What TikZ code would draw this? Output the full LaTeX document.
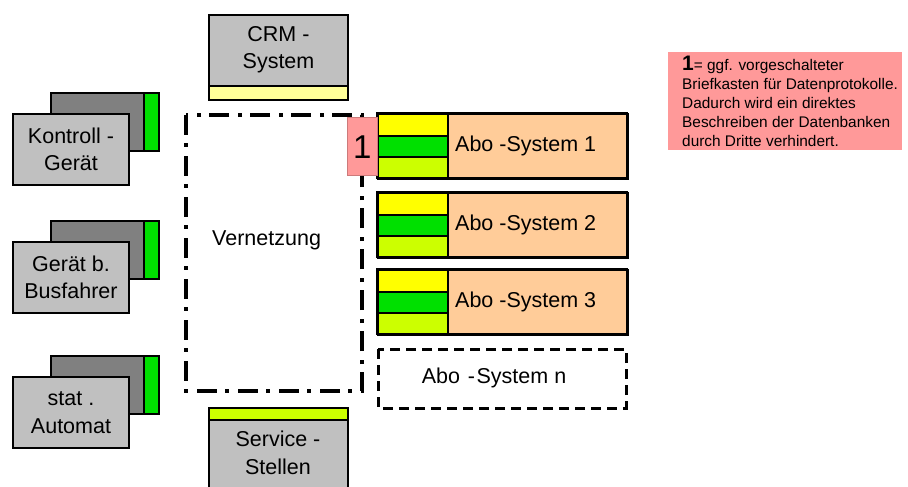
\documentclass[tikz,border=0pt]{standalone}
\usepackage{fontspec}
\setmainfont{Liberation Sans}
\definecolor{lgray}{HTML}{C0C0C0}
\definecolor{dgray}{HTML}{808080}
\definecolor{ledgreen}{HTML}{00E000}
\definecolor{yel}{HTML}{FFFF00}
\definecolor{ygreen}{HTML}{CCFF00}
\definecolor{peach}{HTML}{FFCC99}
\definecolor{rosa}{HTML}{FF9999}
\definecolor{paleyel}{HTML}{FFFF99}
\begin{document}
\begin{tikzpicture}[x=1pt,y=-1pt,
  box/.style={draw=black, line width=2pt},
  blockbox/.style={box, rectangle, inner sep=0pt, anchor=north west},
  lbl/.style={font=\fontsize{21.5}{27.5}\selectfont, align=center, inner sep=0pt},
  netline/.style={line width=4pt, dash pattern=on 20pt off 8pt on 4pt off 9pt},
  openbox/.style={line width=3pt, dash pattern=on 10pt off 6pt}]
\useasboundingbox (0,0) rectangle (908,487);

% terminal devices on the left: dark housing with green display, light front
\foreach \t/\name/\txt in {92/kontroll/{Kontroll -\\Gerät},
                           220/bus/{Gerät b.\\Busfahrer},
                           355/automat/{stat .\\Automat}} {
  \node[blockbox, fill=dgray, minimum width=108pt, minimum height=58pt]
    (\name-back) at (50,\t) {};
  \node[blockbox, fill=ledgreen, minimum width=15pt, minimum height=58pt]
    (\name-led) at (143,\t) {};
  \node[blockbox, fill=lgray, minimum width=116pt, minimum height=71pt]
    (\name) at (12,\t+21) {};
  \node[lbl] (\name-txt) at (\name.center) {\txt};
}

% CRM system on top
\node[blockbox, fill=lgray, minimum width=139pt, minimum height=71pt]
  (crm) at (208,14) {};
\node[blockbox, fill=paleyel, minimum width=139pt, minimum height=14pt]
  (crm-strip) at (208,85) {};
\node[lbl] (crm-txt) at ([yshift=1pt]crm.center) {CRM -\\System};

% service points at the bottom
\node[blockbox, fill=ygreen, minimum width=139pt, minimum height=12pt]
  (service-strip) at (208,407) {};
\node[blockbox, fill=lgray, minimum width=139pt, minimum height=80pt]
  (service) at (208,419) {};
\node[lbl] (service-txt) at (278,453) {Service -\\Stellen};

% network
\draw[netline] (186,115) rectangle (362,391);
\node[lbl, anchor=west] (netz) at (212,240) {Vernetzung};

% subscription systems
\foreach \t/\n in {113/1,192/2,269/3} {
  \node[blockbox, fill=yel, minimum width=70pt, minimum height=21.7pt]
    (abo\n-a) at (377,\t) {};
  \node[blockbox, fill=ledgreen, minimum width=70pt, minimum height=21.7pt]
    (abo\n-b) at (377,\t+21.7) {};
  \node[blockbox, fill=ygreen, minimum width=70pt, minimum height=21.6pt]
    (abo\n-c) at (377,\t+43.4) {};
  \node[blockbox, fill=peach, minimum width=180pt, minimum height=65pt]
    (abo\n) at (447,\t) {};
  \draw[box] (377,\t) rectangle (627,\t+65);
  \node[lbl, anchor=west] (abo\n-txt) at (455,\t+32.5) {Abo -System \n};
}
\draw[openbox] (378,349) rectangle (626,408);
\node[lbl] (abon-txt) at (494,378) {Abo\kern2pt{} -\kern1.5pt System n};

% mailbox marker in front of system 1
\node[blockbox, fill=rosa, draw=rosa!80!black, line width=0.6pt,
      minimum width=30pt, minimum height=58pt] (mark) at (347,117) {};
\node[font=\fontsize{33}{33}\selectfont, inner sep=0pt] (mark-txt)
  at ([yshift=-1pt]mark.center) {1};

% footnote
\node[anchor=north west, fill=rosa, minimum width=234pt, minimum height=98pt,
      inner sep=0pt] (note) at (668,52) {};
\node[anchor=north west, align=left, inner sep=0pt,
      font=\fontsize{15.4}{18.9}\selectfont] (note-txt) at (682,56)
  {{\fontsize{21}{18.9}\selectfont\bfseries 1}= ggf. vorgeschalteter\\
   Briefkasten für Datenprotokolle.\\
   Dadurch wird ein direktes\\
   Beschreiben der Datenbanken\\
   durch Dritte verhindert.};
\end{tikzpicture}
\end{document}
